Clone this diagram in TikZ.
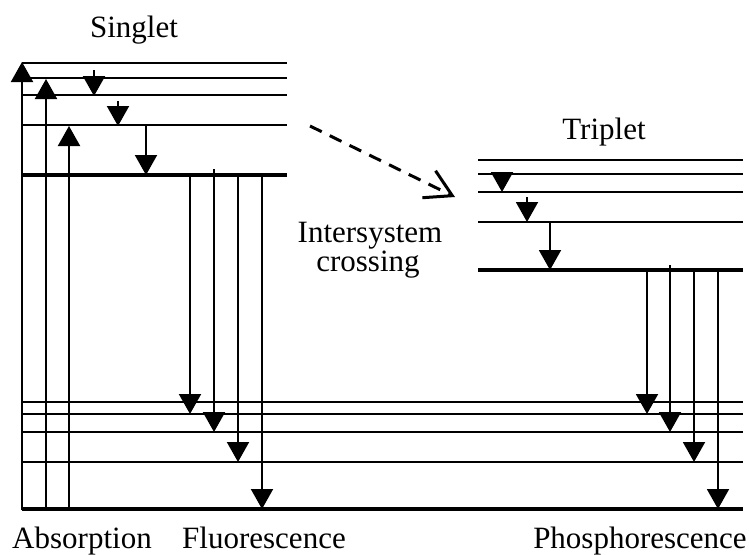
\documentclass[tikz,border=0pt]{standalone}
\usepackage{fontspec}
\setmainfont{Liberation Serif}
\usetikzlibrary{arrows.meta}
\begin{document}
\begin{tikzpicture}[x=1pt,y=-1pt,
  lvl/.style={line width=2pt},
  lvlthick/.style={line width=3.5pt},
  vert/.style={line width=2pt},
  tri/.style={-{Triangle[length=20pt,width=22pt]}},
  lab/.style={anchor=base,inner sep=0pt,font=\fontsize{31}{36}\selectfont}]
\useasboundingbox (0,0) rectangle (749,554);
% singlet levels
\foreach \y in {63,78,95,125} \draw[lvl] (22,\y) -- (287,\y);
\draw[lvlthick] (22,175) -- (287,175);
% triplet levels
\foreach \y in {160,174,192,222} \draw[lvl] (478,\y) -- (743,\y);
\draw[lvlthick] (478,270) -- (743,270);
% ground levels
\foreach \y in {402,414,432,462} \draw[lvl] (22,\y) -- (743,\y);
\draw[lvlthick] (22,509) -- (743,509);
% absorption
\draw[vert,tri] (22,510) -- (22,62);
\draw[vert,tri] (46,509) -- (46,79);
\draw[vert,tri] (69,509) -- (69,126);
% singlet relaxation
\draw[vert,tri] (94,70) -- (94,96);
\draw[vert,tri] (118,101) -- (118,126);
\draw[vert,tri] (146,125) -- (146,175);
% fluorescence
\draw[vert,tri] (190,175) -- (190,414);
\draw[vert,tri] (214,169) -- (214,432);
\draw[vert,tri] (238,175) -- (238,462);
\draw[vert,tri] (262,175) -- (262,509);
% triplet relaxation
\draw[vert,tri] (502,172) -- (502,192);
\draw[vert,tri] (527,197) -- (527,222);
\draw[vert,tri] (550,222) -- (550,270);
% phosphorescence
\draw[vert,tri] (647,270) -- (647,414);
\draw[vert,tri] (670,265) -- (670,432);
\draw[vert,tri] (694,270) -- (694,462);
\draw[vert,tri] (718,270) -- (718,509);
% intersystem crossing
\coordinate (iscA) at (310,126);
\coordinate (iscB) at (455,197);
\draw[line width=3pt,dash pattern=on 13pt off 9pt,-{Straight Barb[length=26pt,width=30pt,line width=3pt]}] (iscA) -- (iscB);
% labels
\node[lab] (singlet) at (134,37) {Singlet};
\node[lab] (triplet) at (604,139) {Triplet};
\node[lab] (isc1) at (370,242) {Intersystem};
\node[lab] (isc2) at (368,271) {crossing};
\node[lab] (abs) at (82,548) {Absorption};
\node[lab] (fluo) at (264,548) {Fluorescence};
\node[lab] (phos) at (640,548) {Phosphorescence};
\end{tikzpicture}
\end{document}
